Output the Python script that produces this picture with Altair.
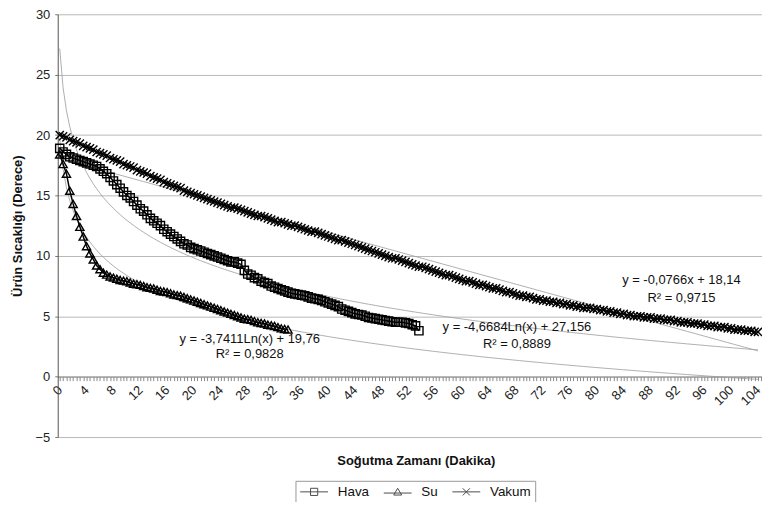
import altair as alt
import pandas as pd

# ---------------- data ----------------
series_names = ["Hava", "Su", "Vakum"]
step_min = 0.5  # one reading every half minute

hava = [18.9, 18.6, 18.4, 18.2, 18.1, 18.0, 17.9, 17.8, 17.7, 17.6,
        17.5, 17.4, 17.2, 17.0, 16.8, 16.5, 16.2, 15.9, 15.6, 15.3,
        15.0, 14.8, 14.5, 14.2, 13.9, 13.7, 13.4, 13.1, 12.9, 12.7,
        12.5, 12.2, 12.0, 11.8, 11.6, 11.4, 11.2, 11.0, 10.9, 10.7,
        10.6, 10.5, 10.4, 10.3, 10.2, 10.1, 10.0, 9.9, 9.8, 9.7,
        9.6, 9.5, 9.5, 9.4, 9.3, 8.8, 8.5, 8.4, 8.2, 8.1,
        7.9, 7.8, 7.7, 7.5, 7.4, 7.3, 7.2, 7.1, 7.0, 6.9,
        6.85, 6.8, 6.75, 6.7, 6.6, 6.5, 6.45, 6.4, 6.3, 6.2,
        6.1, 6.0, 5.9, 5.8, 5.6, 5.5, 5.4, 5.3, 5.2, 5.15,
        5.1, 5.0, 4.9, 4.85, 4.8, 4.75, 4.7, 4.65, 4.6, 4.55,
        4.5, 4.5, 4.5, 4.45, 4.4, 4.3, 4.2, 3.8]

su = [18.4, 17.6, 16.8, 15.4, 14.3, 13.3, 12.4, 11.6, 10.8, 10.2,
      9.7, 9.2, 8.9, 8.6, 8.45, 8.3, 8.2, 8.1, 8.0, 7.95,
      7.9, 7.8, 7.7, 7.65, 7.6, 7.5, 7.4, 7.35, 7.3, 7.2,
      7.1, 7.05, 7.0, 6.9, 6.8, 6.75, 6.7, 6.6, 6.5, 6.4,
      6.3, 6.2, 6.1, 6.0, 5.9, 5.8, 5.7, 5.6, 5.5, 5.4,
      5.3, 5.2, 5.1, 5.0, 4.9, 4.8, 4.75, 4.7, 4.6, 4.5,
      4.45, 4.4, 4.3, 4.25, 4.2, 4.1, 4.0, 3.95, 3.9]

vakum = [20.0, 19.9, 19.8, 19.6, 19.5, 19.4, 19.3, 19.1, 19.0,
         18.9, 18.8, 18.6, 18.5, 18.4, 18.3, 18.1, 18.0,
         17.9, 17.8, 17.6, 17.5, 17.4, 17.3, 17.1, 17.0,
         16.9, 16.8, 16.6, 16.5, 16.4, 16.3, 16.1, 16.0,
         15.9, 15.8, 15.7, 15.6, 15.4, 15.3, 15.2, 15.1,
         15.0, 14.9, 14.8, 14.7, 14.6, 14.5, 14.4, 14.3,
         14.2, 14.1, 14.0, 14.0, 13.9, 13.8, 13.7, 13.6,
         13.5, 13.4, 13.3, 13.3, 13.2, 13.1, 13.0, 12.9,
         12.8, 12.8, 12.7, 12.6, 12.5, 12.5, 12.4, 12.3,
         12.2, 12.1, 12.0, 12.0, 11.9, 11.8, 11.7, 11.6,
         11.5, 11.4, 11.3, 11.3, 11.2, 11.1, 11.0, 10.9,
         10.8, 10.7, 10.6, 10.5, 10.4, 10.3, 10.2, 10.1,
         10.0, 9.9, 9.8, 9.8, 9.7, 9.6, 9.5, 9.4,
         9.3, 9.2, 9.1, 9.1, 9.0, 8.9, 8.8, 8.7,
         8.6, 8.5, 8.4, 8.4, 8.3, 8.2, 8.1, 8.0,
         7.9, 7.9, 7.8, 7.7, 7.6, 7.6, 7.5, 7.4,
         7.3, 7.3, 7.2, 7.1, 7.0, 7.0, 6.9, 6.8,
         6.7, 6.7, 6.6, 6.6, 6.5, 6.4, 6.4, 6.3,
         6.3, 6.2, 6.2, 6.1, 6.1, 6.0, 6.0, 5.9,
         5.9, 5.8, 5.8, 5.7, 5.7, 5.7, 5.6, 5.6,
         5.5, 5.5, 5.4, 5.4, 5.3, 5.3, 5.2, 5.2,
         5.1, 5.1, 5.0, 5.0, 5.0, 4.9, 4.9, 4.9,
         4.8, 4.8, 4.8, 4.7, 4.7, 4.7, 4.6, 4.6,
         4.5, 4.5, 4.5, 4.4, 4.4, 4.4, 4.3, 4.3,
         4.2, 4.2, 4.2, 4.1, 4.1, 4.1, 4.0, 4.0,
         3.9, 3.9, 3.9, 3.8, 3.8, 3.8, 3.7, 3.7]

# trendline coefficients printed on the chart (x = reading index, 1-based)
trend_slope = [-4.6684, -3.7411, -0.0766]
trend_const = [27.156, 19.76, 18.14]
trend_kind = ["log", "log", "linear"]
n_readings = 209

# trendline labels
ann_text = ["y = -3,7411Ln(x) + 19,76", "R² = 0,9828",
            "y = -4,6684Ln(x) + 27,156", "R² = 0,8889",
            "y = -0,0766x + 18,14", "R² = 0,9715"]
ann_m = [28.3, 28.3, 68.1, 68.1, 92.6, 92.6]
ann_v = [3.15, 1.84, 4.14, 2.74, 8.0, 6.53]

x_tick_values = [i * 0.5 for i in range(210)]
y_tick_values = [-5, 0, 5, 10, 15, 20, 25, 30]

# ---------------- build tables ----------------
rows = []
for name, vals in zip(series_names, [hava, su, vakum]):
    for i, v in enumerate(vals):
        rows.append({"series": name, "m": i * step_min, "v": v})
df = pd.DataFrame(rows)
ann_df = pd.DataFrame({"t": ann_text, "m": ann_m, "v": ann_v})

calc = {}
for name, a, b, kind in zip(series_names, trend_slope, trend_const, trend_kind):
    if kind == "log":
        calc[name] = f"{a}*log(datum.idx)+{b}"
    else:
        calc[name] = f"{a}*datum.idx+{b}"

# ---------------- layout ----------------
W, H = 708, 425
PAD_L, PAD_T, PAD_R, PAD_B = 50, 5, 0, 64
FONT = "Liberation Sans"
x_offset = -H * 5 / 35.0

x_enc = alt.X(
    "m:Q",
    scale=alt.Scale(domain=[-0.296, 104.6], nice=False, zero=False),
    axis=alt.Axis(
        values=x_tick_values,
        labelExpr="datum.value % 4 === 0 ? toString(datum.value) : ''",
        labelAngle=315, labelAlign="right", labelBaseline="middle",
        labelPadding=7, labelOverlap=False, labelFlush=False,
        labelFontSize=13, labelColor="#222", labelFont=FONT,
        tickSize=4, tickColor="#8a8a8a", domainColor="#8a8a8a",
        grid=False, offset=x_offset,
        title="Soğutma Zamanı (Dakika)", titleFont=FONT, titleFontSize=13,
        titleFontWeight="bold", titleColor="#111",
        titleX=360, titleY=84, titleAlign="center", titleBaseline="middle",
    ),
)
y_enc = alt.Y(
    "v:Q",
    scale=alt.Scale(domain=[-5, 30], nice=False, zero=False),
    axis=alt.Axis(
        values=y_tick_values, labelFontSize=13, labelFont=FONT, labelColor="#222",
        labelPadding=5, labelFlush=False, tickSize=3, tickColor="#777",
        domainColor="#555", gridColor="#b8b8b8", gridWidth=1,
        title="Ürün Sıcaklığı (Derece)", titleFont=FONT, titleFontSize=13,
        titleFontWeight="bold", titleColor="#111", titleAngle=270,
        titleX=-40, titleY=H / 2, titleAlign="center", titleBaseline="middle",
    ),
)

trend = (
    alt.Chart(alt.sequence(1, n_readings + 1, as_="idx"))
    .transform_calculate(m="(datum.idx-1)/2", **calc)
    .transform_fold(series_names, as_=["key", "v"])
    .mark_line(color="#9a9a9a", strokeWidth=0.8, clip=True)
    .encode(x=x_enc, y=y_enc, detail="key:N")
)

lines = alt.Chart(df).mark_line(color="black", strokeWidth=1.5).encode(
    x=x_enc, y=y_enc, detail="series:N"
)

shape_range = ["square", "triangle-up", "M-1,-1L1,1M-1,1L1,-1"]
points = alt.Chart(df).mark_point(
    filled=False, color="black", strokeWidth=1.4, size=68, opacity=1
).encode(
    x=x_enc, y=y_enc,
    shape=alt.Shape("series:N", scale=alt.Scale(domain=series_names, range=shape_range), legend=None),
)

legend_paths = [
    "M-3.5,0H3.5M-0.9,-0.9H0.9V0.9H-0.9Z",
    "M-3.5,0.3H3.5M0,-0.9L1,0.8H-1Z",
    "M-3.5,0H3.5M-0.9,-0.9L0.9,0.9M-0.9,0.9L0.9,-0.9",
]
legend_layer = (
    alt.Chart(df)
    .transform_filter("false")
    .mark_point(filled=False, color="black", strokeWidth=1)
    .encode(
        x=x_enc, y=y_enc,
        shape=alt.Shape(
            "series:N",
            scale=alt.Scale(domain=series_names, range=legend_paths),
            legend=alt.Legend(
                title=None, orient="none", legendX=239, legendY=469,
                direction="horizontal", strokeColor="#999", padding=4,
                labelFont=FONT, labelFontSize=13.5, labelColor="#111",
                symbolSize=64, symbolStrokeWidth=1, symbolStrokeColor="black",
                symbolFillColor="transparent",
                symbolOffset=8, labelOffset=17, columnPadding=11,
            ),
        ),
    )
)

ann = alt.Chart(ann_df).mark_text(
    font=FONT, fontSize=13, color="#111", align="center", baseline="middle"
).encode(x=x_enc, y=y_enc, text="t:N")

chart = (
    alt.layer(trend, lines, points, legend_layer, ann)
    .resolve_scale(shape="independent")
    .properties(
        width=W, height=H,
        autosize=alt.AutoSizeParams(type="none"),
        padding={"left": PAD_L, "top": PAD_T, "right": PAD_R, "bottom": PAD_B},
    )
    .configure(font=FONT)
    .configure_view(stroke=None)
)

chart.save("out.html", embed_options={"renderer": "svg", "actions": False})
